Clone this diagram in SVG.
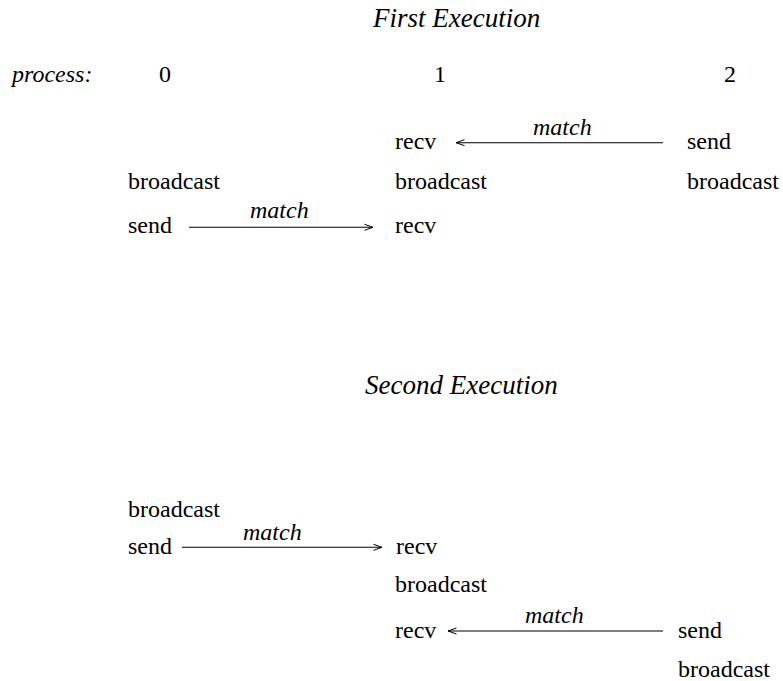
<svg xmlns="http://www.w3.org/2000/svg" width="783" height="681" viewBox="0 0 783 681">
<defs>
<marker id="ah" viewBox="0 0 10 8" refX="9.5" refY="4" markerWidth="10" markerHeight="8" markerUnits="userSpaceOnUse" orient="auto">
<path d="M1,1 L9.5,4 L1,7" fill="none" stroke="#000" stroke-width="1"/>
</marker>
</defs>
<rect width="783" height="681" fill="#fff"/>
<g id="labels">
<text font-family="Liberation Serif" font-size="27" font-style="italic" x="373" y="27">First Execution</text>
<text font-family="Liberation Serif" font-size="24" font-style="italic" x="12" y="82">process:</text>
<text font-family="Liberation Serif" font-size="24" x="159" y="82">0</text>
<text font-family="Liberation Serif" font-size="24" x="434" y="82">1</text>
<text font-family="Liberation Serif" font-size="24" x="724" y="82">2</text>
<text font-family="Liberation Serif" font-size="27" font-style="italic" x="365" y="394">Second Execution</text>
</g>
<g id="connectors">
<g stroke="#000" stroke-width="1.1" fill="none" marker-end="url(#ah)">
<line x1="663" y1="142.7" x2="456" y2="142.7"/>
<line x1="189" y1="227.3" x2="373" y2="227.3"/>
<line x1="182" y1="547.3" x2="382" y2="547.3"/>
<line x1="663" y1="631" x2="448" y2="631"/>
</g>
<text font-family="Liberation Serif" font-size="24" font-style="italic" x="533" y="135">match</text>
<text font-family="Liberation Serif" font-size="24" font-style="italic" x="250" y="218">match</text>
<text font-family="Liberation Serif" font-size="24" font-style="italic" x="243" y="540">match</text>
<text font-family="Liberation Serif" font-size="24" font-style="italic" x="525" y="623">match</text>
</g>
<g id="e1-p1-recv1"><text font-family="Liberation Serif" font-size="24" x="395" y="149">recv</text></g>
<g id="e1-p2-send"><text font-family="Liberation Serif" font-size="24" x="687" y="149">send</text></g>
<g id="e1-p0-broadcast"><text font-family="Liberation Serif" font-size="24" x="128" y="189">broadcast</text></g>
<g id="e1-p1-broadcast"><text font-family="Liberation Serif" font-size="24" x="395" y="189">broadcast</text></g>
<g id="e1-p2-broadcast"><text font-family="Liberation Serif" font-size="24" x="687" y="189">broadcast</text></g>
<g id="e1-p0-send"><text font-family="Liberation Serif" font-size="24" x="128" y="233">send</text></g>
<g id="e1-p1-recv2"><text font-family="Liberation Serif" font-size="24" x="395" y="233">recv</text></g>
<g id="e2-p0-broadcast"><text font-family="Liberation Serif" font-size="24" x="128" y="517">broadcast</text></g>
<g id="e2-p0-send"><text font-family="Liberation Serif" font-size="24" x="128" y="554">send</text></g>
<g id="e2-p1-recv1"><text font-family="Liberation Serif" font-size="24" x="396" y="554">recv</text></g>
<g id="e2-p1-broadcast"><text font-family="Liberation Serif" font-size="24" x="395" y="592">broadcast</text></g>
<g id="e2-p1-recv2"><text font-family="Liberation Serif" font-size="24" x="395" y="638">recv</text></g>
<g id="e2-p2-send"><text font-family="Liberation Serif" font-size="24" x="678" y="638">send</text></g>
<g id="e2-p2-broadcast"><text font-family="Liberation Serif" font-size="24" x="678" y="677">broadcast</text></g>
</svg>
